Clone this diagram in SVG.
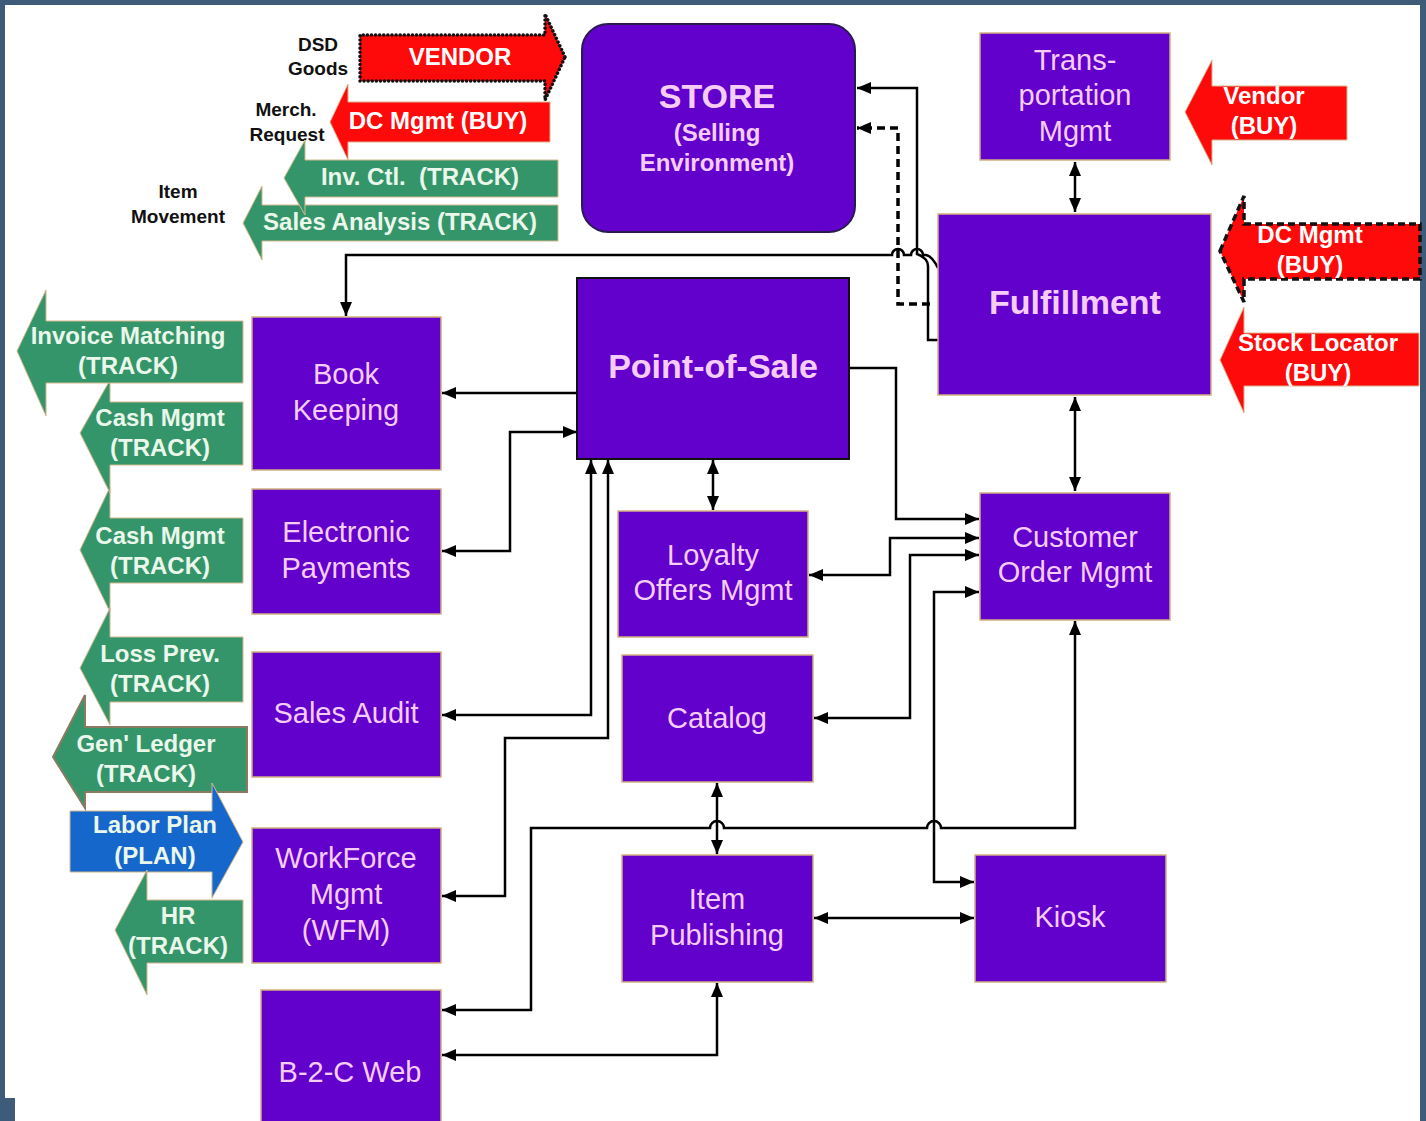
<svg xmlns="http://www.w3.org/2000/svg" width="1426" height="1121" viewBox="0 0 1426 1121">
<defs>
<style>
.node{fill:#6200CC;stroke:#D2B080;stroke-width:1.5}
.nt{font-family:"Liberation Sans",Arial,sans-serif;font-size:29px;fill:#F6CDF6;text-anchor:middle}
.nb{font-family:"Liberation Sans",Arial,sans-serif;font-weight:bold;fill:#F6CDF6;text-anchor:middle}
.red{fill:#FF0A0A;stroke:#D9B38C;stroke-width:1}
.grn{fill:#34956A;stroke:#D2B88E;stroke-width:1}
.blu{fill:#1667CC;stroke:#D2B88E;stroke-width:1}
.at{font-family:"Liberation Sans",Arial,sans-serif;font-weight:bold;font-size:24px;text-anchor:middle}
.wt{fill:#FFFFFF}
.gt{fill:#EAF7EA}
.lbl{font-family:"Liberation Sans",Arial,sans-serif;font-weight:bold;font-size:19px;fill:#111;text-anchor:middle}
.c{fill:none;stroke:#000;stroke-width:2.5}
.d{fill:none;stroke:#000;stroke-width:3.5;stroke-dasharray:8,5}
</style>
<marker id="ah" viewBox="0 0 14 12" refX="14" refY="6" markerWidth="14" markerHeight="12" markerUnits="userSpaceOnUse" orient="auto-start-reverse">
<path d="M0,0 L14,6 L0,12 z" fill="#000"/>
</marker>
</defs>

<g id="background">
<rect x="0" y="0" width="1426" height="1121" fill="#3E5C7A"/>
<rect x="5" y="5" width="1415" height="1093" fill="#FFFFFF"/>
<rect x="15" y="1098" width="1405" height="23" fill="#FFFFFF"/>
</g>

<g id="connectors">
<path class="c" d="M1075,162 V212" marker-start="url(#ah)" marker-end="url(#ah)"/>
<path class="c" d="M1075,397 V491" marker-start="url(#ah)" marker-end="url(#ah)"/>
<path class="c" d="M938,340 H928 V266 Q928,258 917,254 V88 H857" marker-end="url(#ah)"/>
<path class="d" d="M930,304 H898 V128 H857" marker-end="url(#ah)"/>
<path class="c" d="M938,268 Q932,256 926,255 H923 A6,6 0 0 0 911,255 H904 A6,6 0 0 0 892,255 H346 V316" marker-end="url(#ah)"/>
<path class="c" d="M577,393 H442" marker-end="url(#ah)"/>
<path class="c" d="M577,432 H510 V551 H442" marker-start="url(#ah)" marker-end="url(#ah)"/>
<path class="c" d="M591,460 V715 H442" marker-start="url(#ah)" marker-end="url(#ah)"/>
<path class="c" d="M608,460 V738 H505 V896 H442" marker-start="url(#ah)" marker-end="url(#ah)"/>
<path class="c" d="M713,460 V510" marker-start="url(#ah)" marker-end="url(#ah)"/>
<path class="c" d="M849,368 H896 V519 H979" marker-end="url(#ah)"/>
<path class="c" d="M809,575 H890 V538 H979" marker-start="url(#ah)" marker-end="url(#ah)"/>
<path class="c" d="M814,718 H910 V555 H979" marker-start="url(#ah)" marker-end="url(#ah)"/>
<path class="c" d="M979,592 H934 V882 H974" marker-start="url(#ah)" marker-end="url(#ah)"/>
<path class="c" d="M717,783 V854" marker-start="url(#ah)" marker-end="url(#ah)"/>
<path class="c" d="M1075,621 V828 H941 A7,7 0 0 0 927,828 H724 A7,7 0 0 0 710,828 H531 V1010 H442" marker-start="url(#ah)" marker-end="url(#ah)"/>
<path class="c" d="M814,918 H974" marker-start="url(#ah)" marker-end="url(#ah)"/>
<path class="c" d="M717,983 V1055 H442" marker-start="url(#ah)" marker-end="url(#ah)"/>
</g>

<g id="store">
<rect x="582" y="24" width="273" height="208" rx="26" fill="#6200CC" stroke="#2A1A50" stroke-width="2"/>
<text class="nb" x="717" y="108" font-size="34">STORE</text>
<text class="nb" x="717" y="141" font-size="24">(Selling</text>
<text class="nb" x="717" y="171" font-size="24">Environment)</text>
</g>
<g id="transportation">
<rect class="node" x="980" y="33" width="190" height="127"/>
<text class="nt" x="1075" y="70">Trans-</text>
<text class="nt" x="1075" y="105">portation</text>
<text class="nt" x="1075" y="141">Mgmt</text>
</g>
<g id="fulfillment">
<rect class="node" x="938" y="214" width="273" height="181"/>
<text class="nb" x="1075" y="314" font-size="34">Fulfillment</text>
</g>
<g id="pos">
<rect x="577" y="278" width="272" height="181" fill="#6200CC" stroke="#111" stroke-width="2"/>
<text class="nb" x="713" y="378" font-size="34">Point-of-Sale</text>
</g>
<g id="bookkeeping">
<rect class="node" x="252" y="317" width="189" height="153"/>
<text class="nt" x="346" y="384">Book</text>
<text class="nt" x="346" y="420">Keeping</text>
</g>
<g id="epayments">
<rect class="node" x="252" y="489" width="189" height="125"/>
<text class="nt" x="346" y="542">Electronic</text>
<text class="nt" x="346" y="578">Payments</text>
</g>
<g id="salesaudit">
<rect class="node" x="252" y="652" width="189" height="125"/>
<text class="nt" x="346" y="723">Sales Audit</text>
</g>
<g id="wfm">
<rect class="node" x="252" y="828" width="189" height="135"/>
<text class="nt" x="346" y="868">WorkForce</text>
<text class="nt" x="346" y="904">Mgmt</text>
<text class="nt" x="346" y="940">(WFM)</text>
</g>
<g id="b2cweb">
<rect class="node" x="261" y="990" width="180" height="140"/>
<text class="nt" x="350" y="1082">B-2-C Web</text>
</g>
<g id="loyalty">
<rect class="node" x="618" y="511" width="190" height="126"/>
<text class="nt" x="713" y="565">Loyalty</text>
<text class="nt" x="713" y="600">Offers Mgmt</text>
</g>
<g id="catalog">
<rect class="node" x="622" y="655" width="191" height="127"/>
<text class="nt" x="717" y="728">Catalog</text>
</g>
<g id="itempublishing">
<rect class="node" x="622" y="855" width="191" height="127"/>
<text class="nt" x="717" y="909">Item</text>
<text class="nt" x="717" y="945">Publishing</text>
</g>
<g id="kiosk">
<rect class="node" x="975" y="855" width="191" height="127"/>
<text class="nt" x="1070" y="927">Kiosk</text>
</g>
<g id="customerorder">
<rect class="node" x="980" y="493" width="190" height="127"/>
<text class="nt" x="1075" y="547">Customer</text>
<text class="nt" x="1075" y="582">Order Mgmt</text>
</g>

<g id="labels">
<text class="lbl" x="318" y="51">DSD</text>
<text class="lbl" x="318" y="75">Goods</text>
<text class="lbl" x="286" y="116">Merch.</text>
<text class="lbl" x="287" y="141">Request</text>
<text class="lbl" x="178" y="198">Item</text>
<text class="lbl" x="178" y="223">Movement</text>
</g>

<g id="vendor-arrow">
<polygon points="565,57 545,14 545,35 360,35 360,81 545,81 545,100" fill="#FF0A0A" stroke="#111" stroke-width="3.5" stroke-dasharray="0.1,4" stroke-linecap="round"/>
<text class="at wt" x="460" y="65">VENDOR</text>
</g>
<g id="dcmgmt-left-arrow">
<polygon class="red" points="330,122 348,84 348,102 550,102 550,142 348,142 348,160"/>
<text class="at wt" x="438" y="129">DC Mgmt (BUY)</text>
</g>
<g id="salesanalysis-arrow">
<polygon class="grn" points="243,223 262,186 262,205 558,205 558,241 262,241 262,260"/>
<text class="at gt" x="400" y="230">Sales Analysis (TRACK)</text>
</g>
<g id="invctl-arrow">
<polygon class="grn" points="284,178 305,140 305,160 558,160 558,197 305,197 305,215"/>
<text class="at gt" x="420" y="185" xml:space="preserve">Inv. Ctl.  (TRACK)</text>
</g>

<g id="vendor-buy-arrow">
<polygon class="red" points="1185,112 1212,60 1212,86 1347,86 1347,140 1212,140 1212,165"/>
<text class="at wt" x="1264" y="104">Vendor</text>
<text class="at wt" x="1264" y="134">(BUY)</text>
</g>
<g id="dcmgmt-right-arrow">
<polygon points="1220,251 1244,196 1244,224 1420,224 1420,279 1244,279 1244,302" fill="#FF0A0A" stroke="#111" stroke-width="3.5" stroke-dasharray="7,4"/>
<text class="at wt" x="1310" y="243">DC Mgmt</text>
<text class="at wt" x="1310" y="273">(BUY)</text>
</g>
<g id="stocklocator-arrow">
<polygon class="red" points="1220,360 1244,307 1244,333 1419,333 1419,386 1244,386 1244,413"/>
<text class="at wt" x="1318" y="351">Stock Locator</text>
<text class="at wt" x="1318" y="381">(BUY)</text>
</g>

<g id="cashmgmt2-arrow">
<polygon class="grn" points="80,550 110,487 110,518 243,518 243,583 110,583 110,612"/>
<text class="at gt" x="160" y="544">Cash Mgmt</text>
<text class="at gt" x="160" y="574">(TRACK)</text>
</g>
<g id="cashmgmt1-arrow">
<polygon class="grn" points="80,433 110,380 110,402 243,402 243,465 110,465 110,493"/>
<text class="at gt" x="160" y="426">Cash Mgmt</text>
<text class="at gt" x="160" y="456">(TRACK)</text>
</g>
<g id="invoice-arrow">
<polygon class="grn" points="17,351 46,290 46,321 243,321 243,383 46,383 46,416"/>
<text class="at gt" x="128" y="344">Invoice Matching</text>
<text class="at gt" x="128" y="374">(TRACK)</text>
</g>
<g id="lossprev-arrow">
<polygon class="grn" points="80,668 110,608 110,637 243,637 243,702 110,702 110,725"/>
<text class="at gt" x="160" y="662">Loss Prev.</text>
<text class="at gt" x="160" y="692">(TRACK)</text>
</g>
<g id="genledger-arrow">
<polygon points="53,757 85,695 85,727 247,727 247,792 85,792 85,808" fill="#34956A" stroke="#8A7A62" stroke-width="2"/>
<text class="at gt" x="146" y="752">Gen' Ledger</text>
<text class="at gt" x="146" y="782">(TRACK)</text>
</g>
<g id="laborplan-arrow">
<polygon class="blu" points="243,842 212,783 212,811 70,811 70,872 212,872 212,898"/>
<text class="at gt" x="155" y="833">Labor Plan</text>
<text class="at gt" x="155" y="864">(PLAN)</text>
</g>
<g id="hr-arrow">
<polygon class="grn" points="115,930 147,870 147,900 243,900 243,963 147,963 147,995"/>
<text class="at gt" x="178" y="924">HR</text>
<text class="at gt" x="178" y="954">(TRACK)</text>
</g>
</svg>
